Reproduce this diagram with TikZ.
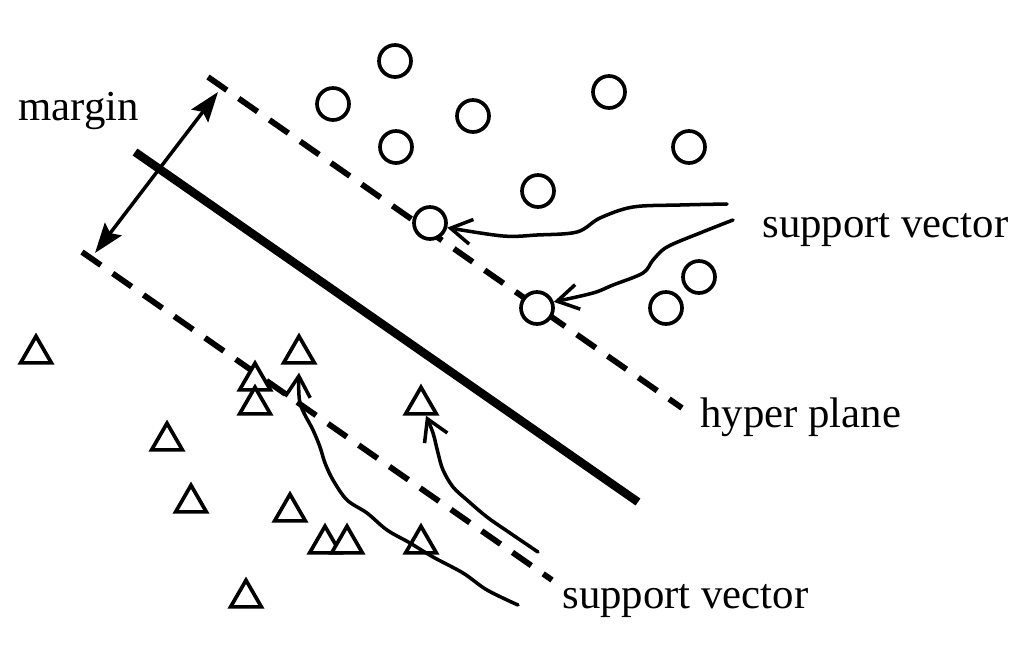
\documentclass[tikz,border=0pt]{standalone}
\usepackage{fontspec}
\setmainfont{Liberation Serif}
\usetikzlibrary{arrows.meta,shapes.geometric}

\begin{document}
\begin{tikzpicture}[
  x=0.02cm, y=-0.02cm,
  plus/.style={circle, draw, fill=white, line width=2.1pt, minimum size=0.64cm, inner sep=0pt},
  minus/.style={regular polygon, regular polygon sides=3, draw, fill=white, line width=2.1pt, minimum size=0.71cm, inner sep=0pt},
  hplane/.style={line width=4.8pt},
  bound/.style={line width=3.3pt, dash pattern=on 0.46cm off 0.29cm},
  marg/.style={{Stealth[length=0.6cm,width=0.42cm,inset=0.1cm]}-{Stealth[length=0.6cm,width=0.42cm,inset=0.1cm]}, line width=2pt},
  sv/.style={-{Straight Barb[length=0.42cm,width=0.5cm]}, line width=2pt, line cap=round, line join=round},
  lbl/.style={anchor=base west, inner sep=0pt, font=\fontsize{24.35pt}{28pt}\selectfont}
]
\useasboundingbox (0,0) rectangle (1024,649);

% hyperplane and the two margin boundaries
\coordinate (h1) at (135,152);
\coordinate (h2) at (638,502);
\coordinate (u1) at (208,77);
\coordinate (u2) at (682,408);
\coordinate (l1) at (82,252);
\coordinate (l2) at (552,580);
\draw[bound] (u1) -- (u2);
\draw[bound] (l1) -- (l2);
\draw[hplane] (h1) -- (h2);

% class 1
\node[plus] (c1) at (395,61) {};
\node[plus] (c2) at (333,104) {};
\node[plus] (c3) at (473,116) {};
\node[plus] (c4) at (396,147) {};
\node[plus] (c5) at (609,92) {};
\node[plus] (c6) at (689,147) {};
\node[plus] (c7) at (538,191) {};
\node[plus] (c8) at (430,223) {};
\node[plus] (c9) at (537,308) {};
\node[plus] (c10) at (699,277) {};
\node[plus] (c11) at (666,308) {};

% class 2
\node[minus] (t1) at (36,354) {};
\node[minus] (t2) at (299,354) {};
\node[minus] (t3) at (255,381) {};
\node[minus] (t4) at (255,405) {};
\node[minus] (t5) at (167,441) {};
\node[minus] (t6) at (191,503) {};
\node[minus] (t7) at (290,512) {};
\node[minus] (t8) at (325,544) {};
\node[minus] (t9) at (347,544) {};
\node[minus] (t10) at (421,544) {};
\node[minus] (t11) at (421,405) {};
\node[minus] (t12) at (246,598) {};

% margin
\coordinate (mtop) at (218,92);
\coordinate (mbot) at (95,253);
\draw[marg] (mbot) -- (mtop);

% labels
\node[lbl] (lmargin) at (18,120) {margin};
\node[lbl] (lsvup) at (762,237) {support vector};
\node[lbl] (lhp) at (700,427) {hyper plane};
\node[lbl] (lsvlo) at (562,608) {support vector};

% support vector pointers
\coordinate (sa) at (727,204);
\coordinate (sb) at (733,220);
\coordinate (sc) at (518,605);
\coordinate (sd) at (538,552);
\draw[sv] plot[smooth, tension=0.55] coordinates {(sa) (680,205) (633,207) (600,218) (577,232) (537,235) (503,236) (c8.-15)};
\draw[sv] plot[smooth, tension=0.55] coordinates {(sb) (700,233) (667,247) (653,260) (643,273) (613,285) (593,293) (c9.20)};
\draw[sv] plot[smooth, tension=0.55] coordinates {(sc) (487,590) (463,573) (433,557) (410,543) (387,530) (367,513) (347,500) (333,480) (325,463) (320,447) (313,430) (300,403) ([yshift=-0.16cm]t2.south)};
\draw[sv] plot[smooth, tension=0.55] coordinates {(sd) (510,533) (487,517) (467,500) (453,487) (443,470) (438,453) (433,433) ([xshift=0.1cm]t11.south)};
\end{tikzpicture}
\end{document}
